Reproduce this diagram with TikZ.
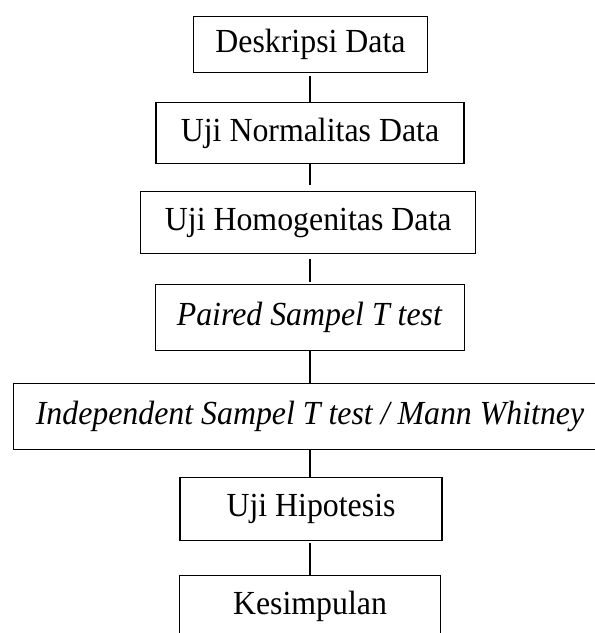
\documentclass[tikz,border=0pt]{standalone}
\usepackage{fontspec}
\setmainfont{Liberation Serif}
\usepackage{graphicx}
\usepackage{tikz}

\newcommand{\sempit}[1]{\scalebox{0.945}[1]{#1}}
\tikzset{kotak/.style={draw, line width=1.2pt, inner sep=0pt, font=\fontsize{33.7}{40}\selectfont}}

\begin{document}
\begin{tikzpicture}[x=1pt, y=-1pt]
          \clip (0,0) rectangle (595,633);
          \node[kotak, minimum width=234, minimum height=56] (deskripsi) at (310.5,44.5) {\sempit{Deskripsi Data}};
          \node[kotak, minimum width=308, minimum height=61] (normal) at (310,133) {\sempit{Uji Normalitas Data}};
          \node[kotak, minimum width=335, minimum height=62] (homogen) at (308.2,222.7) {\sempit{Uji Homogenitas Data}};
          \node[kotak, minimum width=309, minimum height=66] (paired) at (309.7,317.5) {\sempit{\textit{Paired Sampel T test}}};
          \node[kotak, minimum width=593, minimum height=66] (indep) at (310,416.5) {\sempit{\textit{Independent Sampel T test / Mann Whitney}}};
          \node[kotak, minimum width=262, minimum height=63] (hipotesis) at (311,508.7) {\sempit{Uji Hipotesis}};
          \node[kotak, minimum width=261, minimum height=62] (simpul) at (310,606.7) {\sempit{Kesimpulan}};
          \draw[line width=1.1pt, shorten <=3pt] (deskripsi.south -| 310,0) -- (normal.north -| 310,0);
          \draw[line width=1.1pt, shorten >=6pt] (normal.south -| 310,0) -- (homogen.north -| 310,0);
          \draw[line width=1.1pt, shorten <=4.5pt, shorten >=1.5pt] (homogen.south -| 310,0) -- (paired.north -| 310,0);
          \draw[line width=1.1pt] (paired.south -| 310,0) -- (indep.north -| 310,0);
          \draw[line width=1.1pt] (indep.south -| 310,0) -- (hipotesis.north -| 310,0);
          \draw[line width=1.1pt, shorten <=2.5pt] (hipotesis.south -| 310,0) -- (simpul.north -| 310,0);
        \end{tikzpicture}
\end{document}
